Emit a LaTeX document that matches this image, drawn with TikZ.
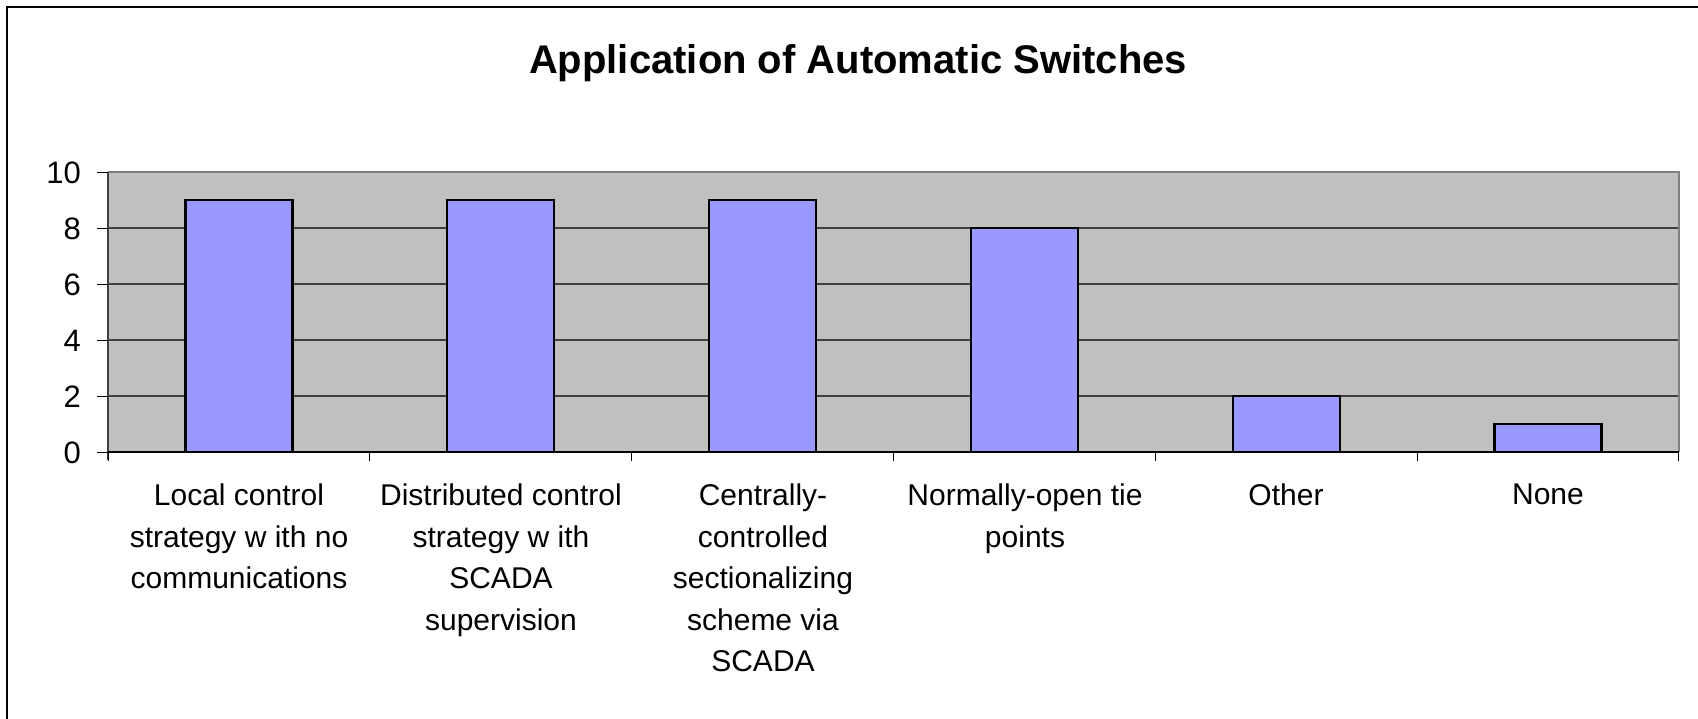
\documentclass[tikz,border=0pt]{standalone}
\usepackage{fontspec}
\setmainfont{Liberation Sans}
\definecolor{plotgray}{HTML}{C0C0C0}
\definecolor{barblue}{HTML}{9999FF}
\definecolor{gridc}{HTML}{404040}
\definecolor{borderc}{HTML}{808080}
\begin{document}
\begin{tikzpicture}[x=1pt,y=-1pt,
  bar/.style={draw=black,line width=2.2pt,fill=barblue},
  gridln/.style={draw=gridc,line width=1.3pt},
  ylab/.style={font=\fontsize{31}{31}\selectfont,anchor=base east,inner sep=0},
  cat/.style={font=\fontsize{30}{41.5}\selectfont,align=center,anchor=north,inner sep=0},
  tickmark/.style={draw=black,line width=1pt}]
\useasboundingbox (0,0) rectangle (1698,718);
% outer frame (clipped right and bottom)
\draw[line width=2pt] (7,740) -- (7,7) -- (1720,7);
% title
\node[font=\bfseries\fontsize{40}{40}\selectfont,anchor=base,inner sep=0] (title) at (858,73) {Application of Automatic Switches};
% plot area
\fill[plotgray] (108,172) rectangle (1679,452);
\foreach \v in {2,4,6,8} {
  \draw[gridln] (108,452-28*\v) -- (1679,452-28*\v);
}
\draw[borderc,line width=2.5pt] (108,172) -- (1679,172) -- (1679,452);
% axes
\draw[gridc,line width=1.5pt] (108,172) -- (108,460);
\draw[black,line width=1.5pt] (108,452) -- (1679,452);
% y ticks and labels
\foreach \v in {0,2,4,6,8,10} {
  \draw[tickmark] (97,452-28*\v) -- (108,452-28*\v);
  \node[ylab] (y\v) at (81,452-28*\v+11) {\v};
}
% x ticks
\foreach \i in {0,...,6} {
  \draw[tickmark] (108+261.83*\i,452) -- (108+261.83*\i,461);
}
% bars
\foreach \i/\v in {1/9,2/9,3/9,4/8,5/2,6/1} {
  \draw[bar] (108+261.83*\i-130.9-53.5,452) rectangle (108+261.83*\i-130.9+53.5,452-28*\v);
}
% category labels
\node[cat] (c1) at (239,484) {Local control\\strategy w ith no\\communications};
\node[cat] (c2) at (501,484) {Distributed control\\strategy w ith\\SCADA\\supervision};
\node[cat] (c3) at (763,484) {Centrally-\\controlled\\sectionalizing\\scheme via\\SCADA};
\node[cat] (c4) at (1025,484) {Normally-open tie\\points};
\node[cat] (c5) at (1286,484) {Other};
\node[cat] (c6) at (1548,484) {None};
\end{tikzpicture}
\end{document}
